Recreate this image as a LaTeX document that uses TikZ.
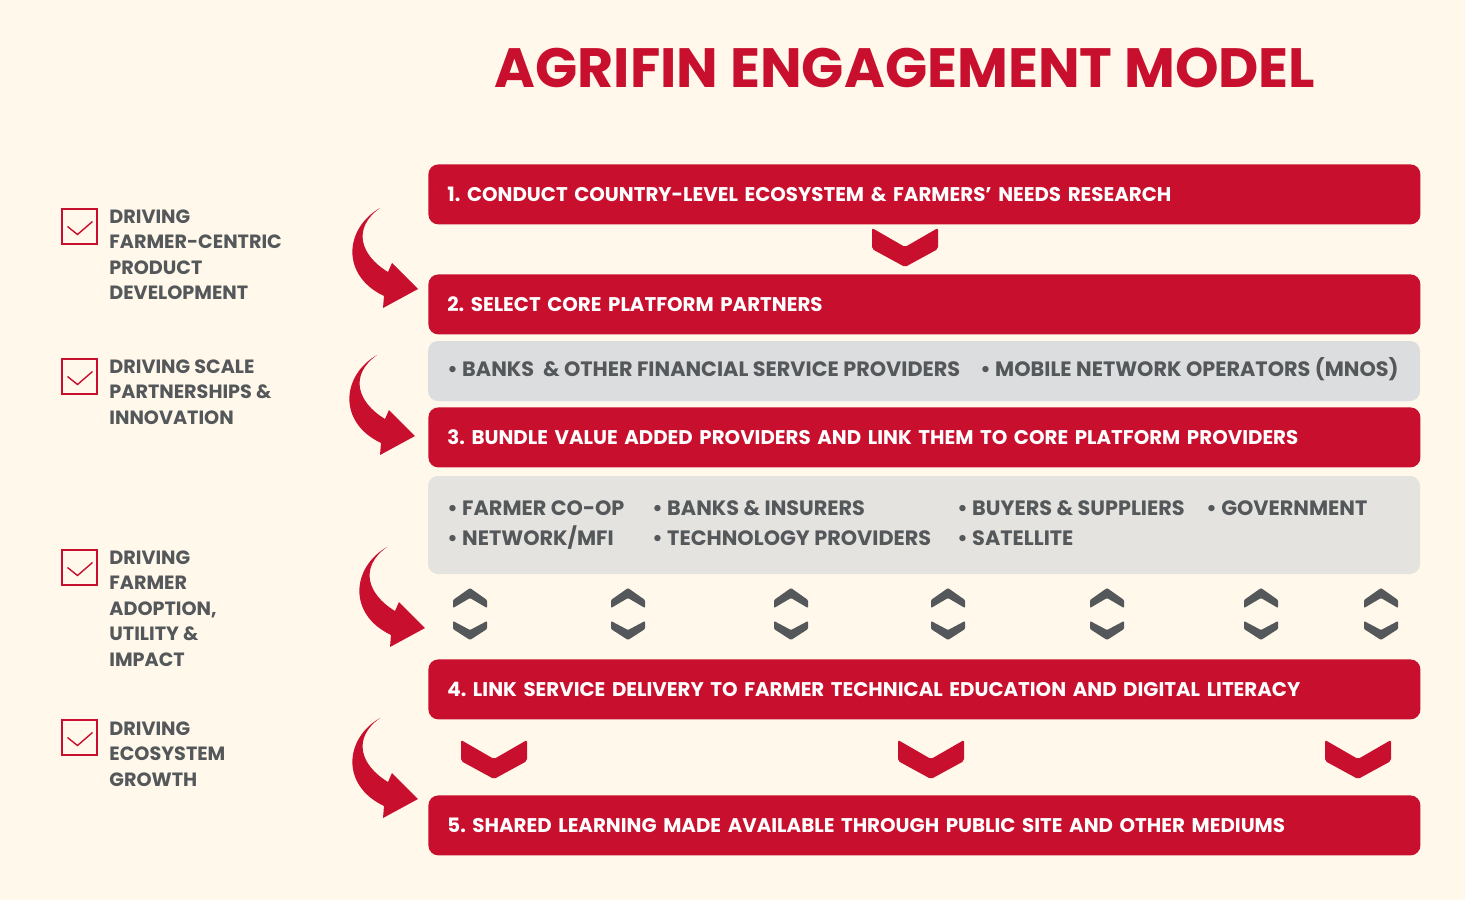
\documentclass[tikz,border=0pt]{standalone}
\usepackage{fontspec}
\setmainfont{Poppins}
\usetikzlibrary{arrows.meta}
\definecolor{agred}{HTML}{C8102E}
\definecolor{agcream}{HTML}{FFF8EB}
\definecolor{aggrey}{HTML}{54585A}
\definecolor{agpanel}{HTML}{DCDDDE}
\definecolor{agpanelb}{HTML}{E4E3DF}
\frenchspacing

\begin{document}
\begin{tikzpicture}[x=0.5pt,y=-0.5pt,
        bar/.style={fill=agred,text=white,rounded corners=5pt,anchor=north west,
            minimum width=496pt,minimum height=30pt,inner xsep=9.5pt,inner ysep=0pt,
            text width=477pt,align=left,font=\fontsize{9.9}{12}\selectfont\bfseries},
        panel/.style={rounded corners=5pt},
        item/.style={anchor=west,inner sep=0pt,text=aggrey,font=\fontsize{10.4}{12}\selectfont\bfseries},
        goal/.style={anchor=north west,inner sep=0pt,text=aggrey,align=left,
            font=\fontsize{9.6}{12.75}\selectfont\bfseries},
        tick/.style={draw=agred,line width=1pt,minimum size=17.5pt,inner sep=0pt},
        bendarrow/.pic={\fill[agred] (0,0) .. controls (-35,20) and (-40,67) .. (4,88)
            -- (3,100) -- (38,81) -- (12,55) -- (8,64) .. controls (-20,47) and (-28,20) .. cycle;},
        bigchev/.pic={\fill[agred,rounded corners=1pt] (-33,0) -- (0,19) -- (33,0) -- (33,21)
            -- (0,39) -- (-33,21) -- cycle;},
        upchev/.pic={\fill[aggrey,rounded corners=0.5pt] (-17,12) -- (0,0) -- (17,12) -- (17,20)
            -- (0,10) -- (-17,20) -- cycle;},
        downchev/.pic={\fill[aggrey,rounded corners=0.5pt] (-17,0) -- (0,9) -- (17,0) -- (17,8)
            -- (0,19) -- (-17,8) -- cycle;}]

    % background and title
    \fill[agcream] (0,0) rectangle (1465,900);
    \node[text=agred,font=\fontsize{27.7}{30}\selectfont\bfseries] (title) at (905,68) {AGRIFIN ENGAGEMENT MODEL};

    % steps
    \node[bar] (step1) at (428,164) {1. CONDUCT COUNTRY-LEVEL ECOSYSTEM \& FARMERS' NEEDS RESEARCH};
    \node[bar] (step2) at (428,274) {2. SELECT CORE PLATFORM PARTNERS};
    \fill[agpanel,panel] (428,341) rectangle (1420,401);
    \node[bar] (step3) at (428,407) {3. BUNDLE VALUE ADDED PROVIDERS AND LINK THEM TO CORE PLATFORM PROVIDERS};
    \fill[agpanelb,panel] (428,476) rectangle (1420,574);
    \node[bar] (step4) at (428,659) {4. LINK SERVICE DELIVERY TO FARMER TECHNICAL EDUCATION AND DIGITAL LITERACY};
    \node[bar] (step5) at (428,795) {5. SHARED LEARNING MADE AVAILABLE THROUGH PUBLIC SITE AND OTHER MEDIUMS};

    % partners
    \node[item] (banks) at (447,369) {\textbullet\ BANKS \ \& OTHER FINANCIAL SERVICE PROVIDERS};
    \node[item] (mnos) at (980,369) {\textbullet\ MOBILE NETWORK OPERATORS (MNOS)};
    \node[item] (coop) at (447,508) {\textbullet\ FARMER CO-OP};
    \node[item] (mfi) at (447,538) {\textbullet\ NETWORK/MFI};
    \node[item] (insurers) at (652,508) {\textbullet\ BANKS \& INSURERS};
    \node[item] (tech) at (652,538) {\textbullet\ TECHNOLOGY PROVIDERS};
    \node[item] (buyers) at (957,508) {\textbullet\ BUYERS \& SUPPLIERS};
    \node[item] (sat) at (957,538) {\textbullet\ SATELLITE};
    \node[item] (gov) at (1206,508) {\textbullet\ GOVERNMENT};

    % chevrons
    \pic at (905,228) {bigchev};
    \foreach \x in {470,628,791,948,1107,1261,1381} {
        \pic at (\x,588) {upchev};
        \pic at (\x,621) {downchev};
    }
    \foreach \x in {494,931,1358}
        \pic at (\x,740) {bigchev};

    % goals on the left
    \node[tick] (box1) at (79.5,226.5) {};
    \node[tick] (box2) at (79.5,376.5) {};
    \node[tick] (box3) at (79.5,567.5) {};
    \node[tick] (box4) at (79.5,737.5) {};
    \foreach \b in {box1,box2,box3,box4}
        \draw[agred,line width=0.7pt] ([shift={(-12,0)}]\b.center) -- ([shift={(-2,8)}]\b.center) -- ([shift={(13,-5)}]\b.center);
    \node[goal] (goal1) at (109,209) {DRIVING\\FARMER-CENTRIC\\PRODUCT\\DEVELOPMENT};
    \node[goal] (goal2) at (109,359) {DRIVING SCALE\\PARTNERSHIPS \&\\INNOVATION};
    \node[goal] (goal3) at (109,550) {DRIVING\\FARMER\\ADOPTION,\\UTILITY \&\\IMPACT};
    \node[goal] (goal4) at (109,721) {DRIVING\\ECOSYSTEM\\GROWTH};

    % curved arrows
    \pic at (380,208) {bendarrow};
    \pic at (377,355) {bendarrow};
    \pic at (387,547) {bendarrow};
    \pic at (380,718) {bendarrow};
\end{tikzpicture}
\end{document}
